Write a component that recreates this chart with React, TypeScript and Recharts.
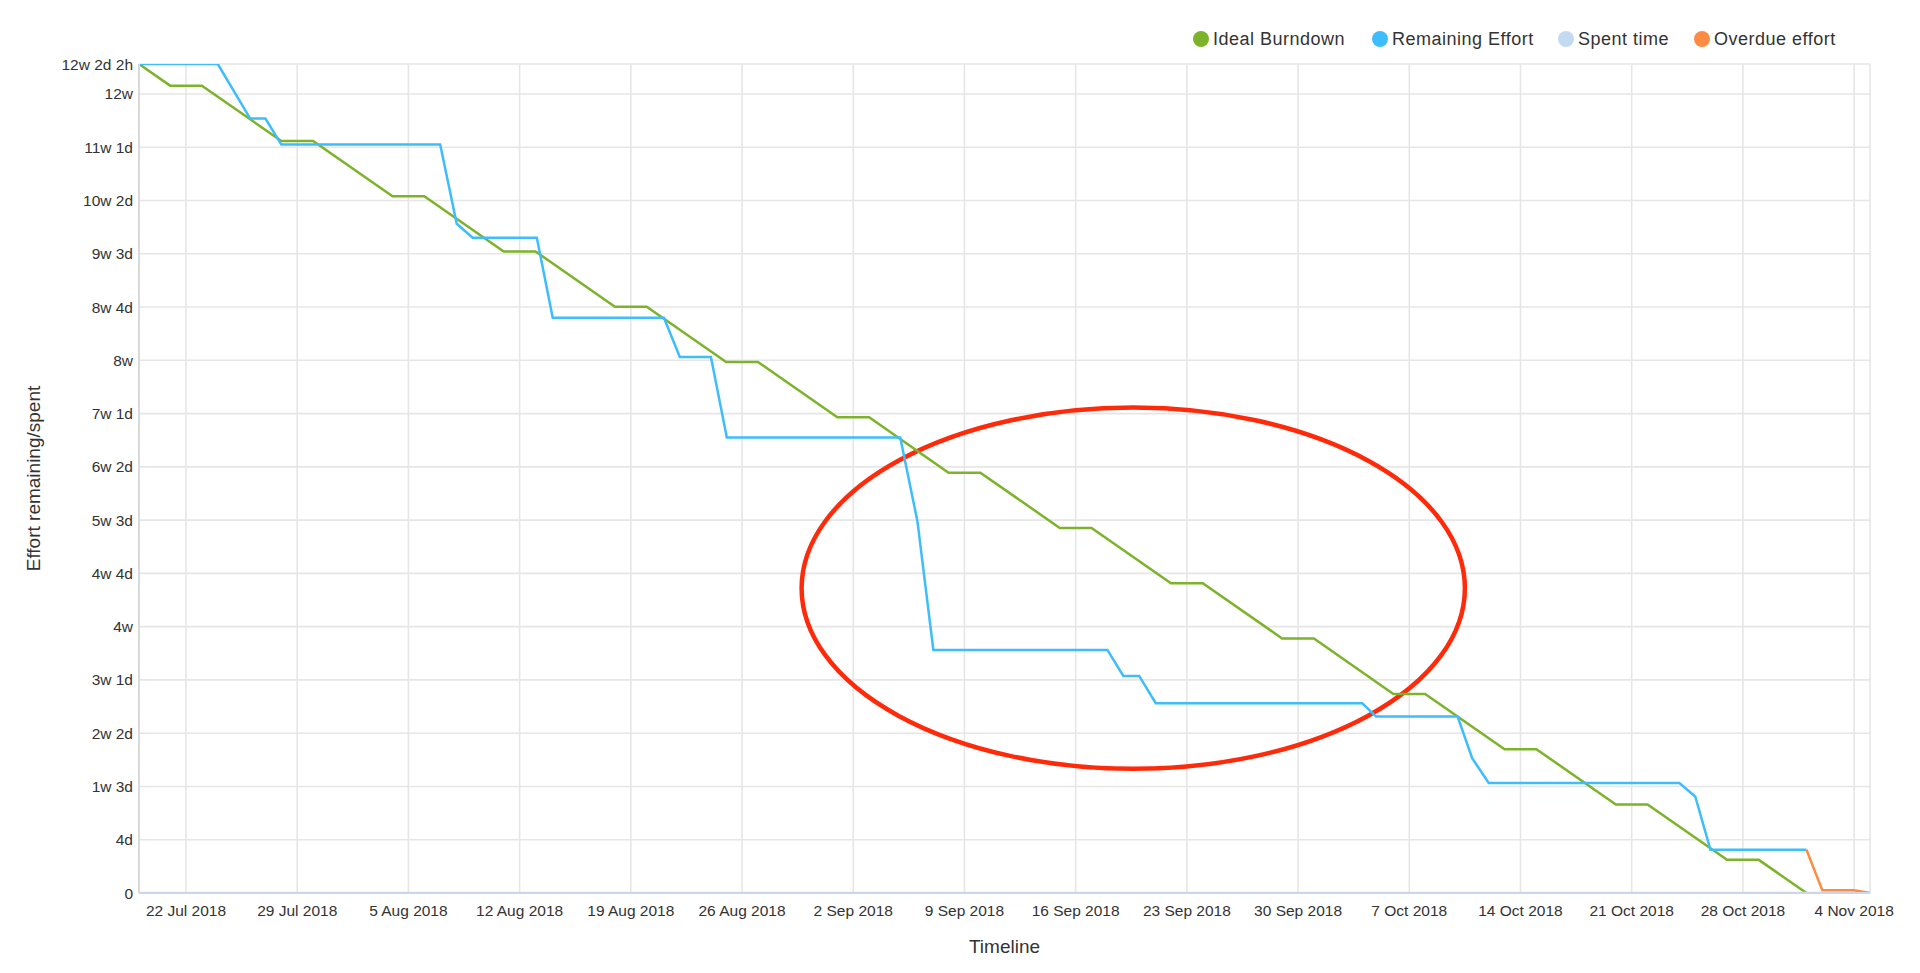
import React from 'react';
import { LineChart, Line, XAxis, YAxis, CartesianGrid, ReferenceArea, Label } from 'recharts';

const FONT = '"Liberation Sans", Arial, Helvetica, sans-serif';

// Times are UTC "YYYY-MM-DDTHH:mm"; effort values are in hours (8h day, 5d week)
const idealTimes = [
  '2018-07-19T01:00', '2018-07-21T00:00', '2018-07-23T00:00', '2018-07-28T00:00', '2018-07-30T00:00',
  '2018-08-04T00:00', '2018-08-06T00:00', '2018-08-11T00:00', '2018-08-13T00:00', '2018-08-18T00:00',
  '2018-08-20T00:00', '2018-08-25T00:00', '2018-08-27T00:00', '2018-09-01T00:00', '2018-09-03T00:00',
  '2018-09-08T00:00', '2018-09-10T00:00', '2018-09-15T00:00', '2018-09-17T00:00', '2018-09-22T00:00',
  '2018-09-24T00:00', '2018-09-29T00:00', '2018-10-01T00:00', '2018-10-06T00:00', '2018-10-08T00:00',
  '2018-10-13T00:00', '2018-10-15T00:00', '2018-10-20T00:00', '2018-10-22T00:00', '2018-10-27T00:00',
  '2018-10-29T00:00', '2018-11-01T00:00',
];
const idealEffort = [
  498, 485, 485, 451.8, 451.8,
  418.6, 418.6, 385.4, 385.4, 352.2,
  352.2, 319, 319, 285.8, 285.8,
  252.5, 252.5, 219.3, 219.3, 186.1,
  186.1, 152.9, 152.9, 119.6, 119.6,
  86.4, 86.4, 53.2, 53.2, 19.9,
  19.9, 0,
];

const remainingTimes = [
  '2018-07-19T01:00', '2018-07-24T00:00', '2018-07-26T01:00', '2018-07-27T00:00', '2018-07-28T00:00',
  '2018-08-07T00:00', '2018-08-08T01:00', '2018-08-09T01:00', '2018-08-13T02:00', '2018-08-14T02:00',
  '2018-08-21T02:00', '2018-08-22T02:00', '2018-08-24T01:00', '2018-08-25T01:00', '2018-09-04T23:00',
  '2018-09-06T01:00', '2018-09-07T01:00', '2018-09-18T00:00', '2018-09-19T00:00', '2018-09-20T00:00',
  '2018-09-21T01:00', '2018-10-04T01:00', '2018-10-04T22:00', '2018-10-10T01:00', '2018-10-10T23:00',
  '2018-10-12T00:00', '2018-10-24T00:00', '2018-10-25T00:00', '2018-10-25T23:00', '2018-11-01T00:00',
];
const remainingEffort = [
  498, 498, 465.2, 465.2, 449.6,
  449.6, 402, 393.6, 393.6, 345.6,
  345.6, 322, 322, 273.6, 273.6,
  223.2, 146, 146, 130.4, 130.4,
  114, 114, 106, 106, 81,
  66.1, 66.1, 58, 26, 26,
];

const spentTimes = ['2018-07-19T01:00', '2018-11-05T00:00'];
const spentEffort = [0, 0];

const overdueTimes = ['2018-11-01T00:00', '2018-11-02T00:00', '2018-11-04T00:00', '2018-11-05T00:00'];
const overdueEffort = [26, 1.6, 1.6, 0];

const xTickDates = [
  '2018-07-22T00:00', '2018-07-29T00:00', '2018-08-05T00:00', '2018-08-12T00:00', '2018-08-19T00:00',
  '2018-08-26T00:00', '2018-09-02T00:00', '2018-09-09T00:00', '2018-09-16T00:00', '2018-09-23T00:00',
  '2018-09-30T00:00', '2018-10-07T00:00', '2018-10-14T00:00', '2018-10-21T00:00', '2018-10-28T00:00',
  '2018-11-04T00:00',
];
const xTickLabels = [
  '22 Jul 2018', '29 Jul 2018', '5 Aug 2018', '12 Aug 2018', '19 Aug 2018',
  '26 Aug 2018', '2 Sep 2018', '9 Sep 2018', '16 Sep 2018', '23 Sep 2018',
  '30 Sep 2018', '7 Oct 2018', '14 Oct 2018', '21 Oct 2018', '28 Oct 2018',
  '4 Nov 2018',
];

const yTickValues = [0, 32, 64, 96, 128, 160, 192, 224, 256, 288, 320, 352, 384, 416, 448, 480, 498];
const yTickLabels = [
  '0', '4d', '1w 3d', '2w 2d', '3w 1d', '4w', '4w 4d', '5w 3d', '6w 2d', '7w 1d',
  '8w', '8w 4d', '9w 3d', '10w 2d', '11w 1d', '12w', '12w 2d 2h',
];

const xDomain = ['2018-07-19T01:00', '2018-11-05T00:00'];
const highlight = { x1: '2018-08-29T18:00', x2: '2018-10-10T12:00', y1: 74.6, y2: 291.6 };

const seriesNames = ['Ideal Burndown', 'Remaining Effort', 'Spent time', 'Overdue effort'];
const seriesColors = ['#7db32a', '#3dbdfc', '#c3dbf1', '#fd8c43'];

const toMs = (s: string) => Date.parse(s + ':00Z');
const build = (times: string[], vals: number[]) => times.map((t, i) => ({ t: toMs(t), v: vals[i] }));

const idealData = build(idealTimes, idealEffort);
const remainingData = build(remainingTimes, remainingEffort);
const spentData = build(spentTimes, spentEffort);
const overdueData = build(overdueTimes, overdueEffort);
const xTicks = xTickDates.map(toMs);

const fmtX = (v: number) => {
  const i = xTicks.indexOf(v);
  return i >= 0 ? xTickLabels[i] : '';
};
const fmtY = (v: number) => {
  const i = yTickValues.indexOf(v);
  return i >= 0 ? yTickLabels[i] : '';
};

const legendLefts = [1193, 1372, 1558, 1694];

export default function App() {
  const seriesData = [idealData, remainingData, spentData, overdueData];
  return (
    <div style={{ position: 'absolute', left: 0, top: 0, width: 1920, height: 973, background: '#fff', fontFamily: FONT }}>
      <LineChart width={1920} height={973} margin={{ top: 64, right: 50, bottom: 50, left: 39 }}>
        <CartesianGrid stroke="#e6e6e6" strokeWidth={1.6} />
        <XAxis
          dataKey="t"
          type="number"
          scale="linear"
          domain={[toMs(xDomain[0]), toMs(xDomain[1])]}
          allowDataOverflow
          ticks={xTicks}
          interval={0}
          tickFormatter={fmtX}
          tickLine={false}
          tickSize={0}
          tickMargin={12}
          height={30}
          axisLine={{ stroke: '#ccd6eb', strokeWidth: 2 }}
          tick={{ fill: '#333', fontSize: 15.5, fontFamily: FONT }}
        >
          <Label
            content={() => (
              <text x={1004.5} y={946} textAnchor="middle" dominantBaseline="central" fill="#333" fontSize={19} fontFamily={FONT}>
                Timeline
              </text>
            )}
          />
        </XAxis>
        <YAxis
          type="number"
          domain={[0, 498]}
          allowDataOverflow
          ticks={yTickValues}
          interval={0}
          tickFormatter={fmtY}
          width={100}
          tickLine={false}
          tickSize={0}
          tickMargin={6}
          axisLine={{ stroke: '#d9d9d9', strokeWidth: 2 }}
          tick={{ fill: '#333', fontSize: 15.5, fontFamily: FONT, width: 200 }}
        >
          <Label
            content={() => (
              <text
                x={33}
                y={478.5}
                textAnchor="middle"
                dominantBaseline="central"
                transform="rotate(-90, 33, 478.5)"
                fill="#333"
                fontSize={19}
                fontFamily={FONT}
              >
                Effort remaining/spent
              </text>
            )}
          />
        </YAxis>
        {seriesData.map((d, i) => (
          <Line
            key={seriesNames[i]}
            data={d}
            dataKey="v"
            name={seriesNames[i]}
            type="linear"
            stroke={seriesColors[i]}
            strokeWidth={2.5}
            dot={false}
            activeDot={false}
            isAnimationActive={false}
          />
        ))}
        <ReferenceArea
          x1={toMs(highlight.x1)}
          x2={toMs(highlight.x2)}
          y1={highlight.y1}
          y2={highlight.y2}
          shape={(p: any) => (
            <ellipse
              cx={p.x + p.width / 2}
              cy={p.y + p.height / 2}
              rx={Math.abs(p.width / 2)}
              ry={Math.abs(p.height / 2)}
              fill="none"
              stroke="#ff2a0a"
              strokeWidth={4.5}
            />
          )}
        />
      </LineChart>
      {seriesNames.map((n, i) => (
        <div
          key={n}
          style={{
            position: 'absolute',
            left: legendLefts[i],
            top: 29,
            height: 20,
            display: 'flex',
            alignItems: 'center',
            whiteSpace: 'nowrap',
          }}
        >
          <span style={{ width: 16, height: 16, borderRadius: 8, background: seriesColors[i], display: 'inline-block', marginRight: 4 }} />
          <span style={{ fontSize: 18, letterSpacing: 0.5, color: '#333', fontFamily: FONT }}>{n}</span>
        </div>
      ))}
    </div>
  );
}
